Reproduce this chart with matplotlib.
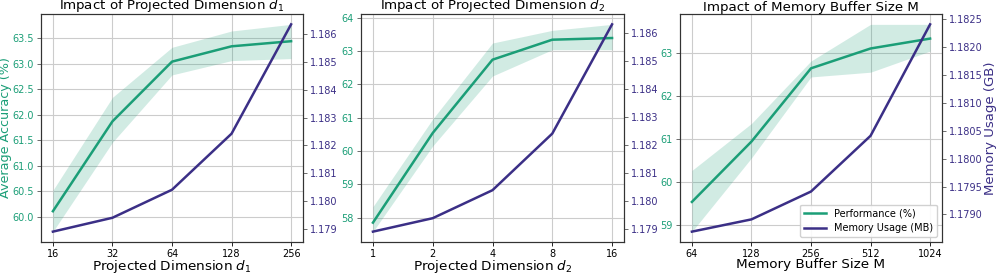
import matplotlib
matplotlib.use("Agg")
import matplotlib.pyplot as plt
from matplotlib.ticker import FixedLocator, FixedFormatter, NullLocator

# ---- data ----
d1_vals = [16, 32, 64, 128, 256]
d1_acc = [60.11, 61.87, 63.04, 63.34, 63.44]
d1_lo = [59.71, 61.46, 62.78, 63.06, 63.10]
d1_hi = [60.52, 62.34, 63.32, 63.64, 63.77]
d1_mem = [1.17889, 1.17939, 1.18040, 1.18242, 1.18636]

d2_vals = [1, 2, 4, 8, 16]
d2_acc = [57.85, 60.54, 62.74, 63.34, 63.39]
d2_lo = [57.58, 60.15, 62.25, 63.04, 63.04]
d2_hi = [58.33, 60.96, 63.24, 63.62, 63.80]
d2_mem = [1.17892, 1.17940, 1.18040, 1.18242, 1.18632]

m_vals = [64, 128, 256, 512, 1024]
m_acc = [59.54, 60.94, 62.64, 63.10, 63.33]
m_lo = [58.85, 60.56, 62.44, 62.55, 63.04]
m_hi = [60.27, 61.36, 62.81, 63.66, 63.66]
m_mem = [1.17869, 1.17891, 1.17941, 1.18041, 1.18241]

panels = [
    ("Impact of Projected Dimension $d_1$", "Projected Dimension $d_1$", d1_vals, d1_acc, d1_lo, d1_hi, d1_mem),
    ("Impact of Projected Dimension $d_2$", "Projected Dimension $d_2$", d2_vals, d2_acc, d2_lo, d2_hi, d2_mem),
    ("Impact of Memory Buffer Size M", "Memory Buffer Size M", m_vals, m_acc, m_lo, m_hi, m_mem),
]

GREEN = "#1b9e77"
PURPLE = "#3b2f86"

fig = plt.figure(figsize=(9.97, 2.73), dpi=100)
lefts = [41, 361, 680]
rights = [303, 624, 942]
top_px, bot_px = 14, 242
W, H = 997, 273

for i, (title, xlabel, xv, acc, lo, hi, mem) in enumerate(panels):
    ax = fig.add_axes([lefts[i] / W, 1 - bot_px / H, (rights[i] - lefts[i]) / W, (bot_px - top_px) / H])
    ax.set_xscale("log", base=2)
    l1, = ax.plot(xv, acc, color=GREEN, lw=1.8, label="Performance (%)", zorder=3)
    ax.fill_between(xv, lo, hi, color=GREEN, alpha=0.2, lw=0, zorder=2)
    ax.xaxis.set_major_locator(FixedLocator(xv))
    ax.xaxis.set_major_formatter(FixedFormatter([str(v) for v in xv]))
    ax.xaxis.set_minor_locator(NullLocator())
    ax.grid(True, color="#cccccc", lw=0.8, zorder=0)
    ax.set_axisbelow(True)
    ax.tick_params(axis="y", colors=GREEN, labelsize=7, length=3, width=0.6, pad=2)
    ax.tick_params(axis="y", color="#555555")
    ax.tick_params(axis="x", labelsize=7, length=3, width=0.6, pad=2)
    ax.set_xlabel(xlabel, fontsize=9.7, labelpad=-1)
    ax.set_title(title, fontsize=9.6, pad=1)
    for s in ax.spines.values():
        s.set_color("#333333")
        s.set_linewidth(0.8)

    ax2 = ax.twinx()
    l2, = ax2.plot(xv, mem, color=PURPLE, lw=1.8, label="Memory Usage (MB)", zorder=3)
    ax2.tick_params(axis="y", colors=PURPLE, labelsize=7, length=3, width=0.6, pad=2)
    ax2.tick_params(axis="y", color="#555555")
    for s in ax2.spines.values():
        s.set_color("#333333")
        s.set_linewidth(0.8)

    if i == 0:
        ax.set_ylabel("Average Accuracy (%)", color=GREEN, fontsize=9.2, labelpad=0)
    if i == 2:
        ax2.set_ylabel("Memory Usage (GB)", color=PURPLE, fontsize=9.5, labelpad=0.5)
        ax2.legend([l1, l2], ["Performance (%)", "Memory Usage (MB)"], loc="lower right", fontsize=7,
                   framealpha=0.9, handlelength=2.3)

fig.savefig("out.png", dpi=100)
